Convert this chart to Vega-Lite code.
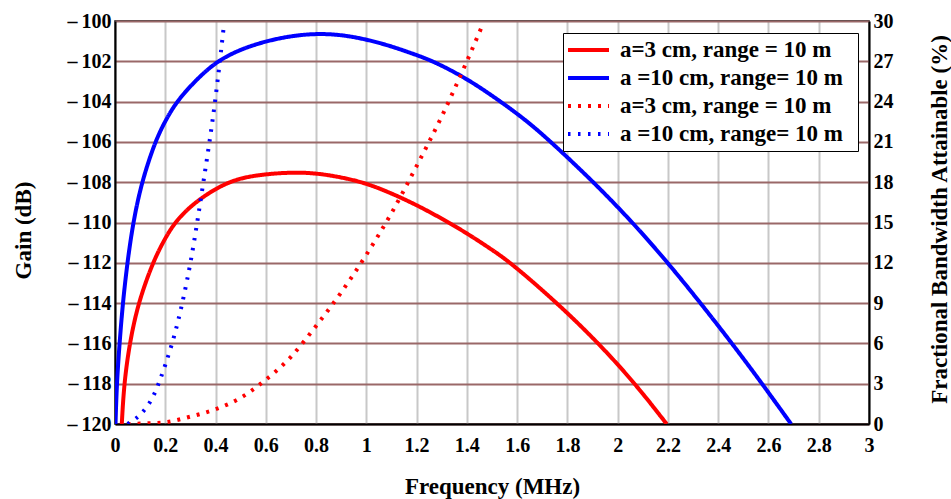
{
  "$schema": "https://vega.github.io/schema/vega-lite/v6.json",
  "autosize": {"type": "none"},
  "width": 754,
  "height": 403,
  "padding": {"left": 115, "top": 21, "right": 82, "bottom": 75},
  "background": "white",
  "config": {
    "font": "Liberation Serif",
    "view": {"stroke": "black", "strokeWidth": 1.5},
    "axis": {
      "labelFont": "Liberation Serif", "labelFontWeight": "bold", "labelFontSize": 20, "labelColor": "black",
      "titleFont": "Liberation Serif", "titleFontWeight": "bold", "titleFontSize": 23, "titleColor": "black",
      "domainColor": "black", "domainWidth": 2, "ticks": false, "tickSize": 0,
      "labelOverlap": false, "labelBound": false, "labelFlush": false
    },
    "legend": {
      "labelFont": "Liberation Serif", "labelFontWeight": "bold", "labelFontSize": 23, "labelColor": "black",
      "strokeColor": "black", "fillColor": "white", "padding": 3,
      "symbolType": "stroke", "symbolSize": 1681, "rowPadding": 0, "clipHeight": 28, "labelOffset": 9, "labelLimit": 400
    }
  },
  "data": {
    "values": [
      {"f": 0.002, "v": -120, "s": "g10"},
      {"f": 0.007, "v": -118, "s": "g10"},
      {"f": 0.018, "v": -116, "s": "g10"},
      {"f": 0.031, "v": -114, "s": "g10"},
      {"f": 0.049, "v": -112, "s": "g10"},
      {"f": 0.072, "v": -110, "s": "g10"},
      {"f": 0.106, "v": -108, "s": "g10"},
      {"f": 0.159, "v": -106, "s": "g10"},
      {"f": 0.2, "v": -104.95, "s": "g10"},
      {"f": 0.245, "v": -104, "s": "g10"},
      {"f": 0.32, "v": -102.95, "s": "g10"},
      {"f": 0.404, "v": -102, "s": "g10"},
      {"f": 0.5, "v": -101.4, "s": "g10"},
      {"f": 0.6, "v": -101.0, "s": "g10"},
      {"f": 0.7, "v": -100.74, "s": "g10"},
      {"f": 0.8, "v": -100.62, "s": "g10"},
      {"f": 0.9, "v": -100.68, "s": "g10"},
      {"f": 1.0, "v": -100.91, "s": "g10"},
      {"f": 1.1, "v": -101.25, "s": "g10"},
      {"f": 1.2, "v": -101.69, "s": "g10"},
      {"f": 1.267, "v": -102, "s": "g10"},
      {"f": 1.4, "v": -102.85, "s": "g10"},
      {"f": 1.535, "v": -104, "s": "g10"},
      {"f": 1.64, "v": -104.97, "s": "g10"},
      {"f": 1.735, "v": -106, "s": "g10"},
      {"f": 1.905, "v": -108, "s": "g10"},
      {"f": 2.06, "v": -110, "s": "g10"},
      {"f": 2.2, "v": -112, "s": "g10"},
      {"f": 2.33, "v": -114, "s": "g10"},
      {"f": 2.455, "v": -116, "s": "g10"},
      {"f": 2.575, "v": -118, "s": "g10"},
      {"f": 2.69, "v": -120, "s": "g10"},

      {"f": 0.027, "v": -120, "s": "g3"},
      {"f": 0.036, "v": -118, "s": "g3"},
      {"f": 0.058, "v": -116, "s": "g3"},
      {"f": 0.092, "v": -114, "s": "g3"},
      {"f": 0.15, "v": -112, "s": "g3"},
      {"f": 0.19, "v": -111, "s": "g3"},
      {"f": 0.236, "v": -110, "s": "g3"},
      {"f": 0.315, "v": -109, "s": "g3"},
      {"f": 0.44, "v": -108, "s": "g3"},
      {"f": 0.55, "v": -107.65, "s": "g3"},
      {"f": 0.7, "v": -107.5, "s": "g3"},
      {"f": 0.8, "v": -107.55, "s": "g3"},
      {"f": 0.9, "v": -107.75, "s": "g3"},
      {"f": 1.0, "v": -108.05, "s": "g3"},
      {"f": 1.1, "v": -108.55, "s": "g3"},
      {"f": 1.2, "v": -109.13, "s": "g3"},
      {"f": 1.3, "v": -109.8, "s": "g3"},
      {"f": 1.4, "v": -110.53, "s": "g3"},
      {"f": 1.5, "v": -111.35, "s": "g3"},
      {"f": 1.575, "v": -112, "s": "g3"},
      {"f": 1.76, "v": -114, "s": "g3"},
      {"f": 1.925, "v": -116, "s": "g3"},
      {"f": 2.07, "v": -118, "s": "g3"},
      {"f": 2.195, "v": -120, "s": "g3"},

      {"f": 0.05, "v": 0, "s": "b3"},
      {"f": 0.1, "v": 0.03, "s": "b3"},
      {"f": 0.2, "v": 0.13, "s": "b3"},
      {"f": 0.3, "v": 0.55, "s": "b3"},
      {"f": 0.4, "v": 1.1, "s": "b3"},
      {"f": 0.5, "v": 1.95, "s": "b3"},
      {"f": 0.58, "v": 3.0, "s": "b3"},
      {"f": 0.7, "v": 5.0, "s": "b3"},
      {"f": 0.8, "v": 7.3, "s": "b3"},
      {"f": 0.9, "v": 9.8, "s": "b3"},
      {"f": 1.0, "v": 12.6, "s": "b3"},
      {"f": 1.1, "v": 15.7, "s": "b3"},
      {"f": 1.2, "v": 19.2, "s": "b3"},
      {"f": 1.3, "v": 22.9, "s": "b3"},
      {"f": 1.4, "v": 27.0, "s": "b3"},
      {"f": 1.46, "v": 29.6, "s": "b3"},

      {"f": 0.05, "v": 0, "s": "b10"},
      {"f": 0.075, "v": 0.3, "s": "b10"},
      {"f": 0.1, "v": 0.7, "s": "b10"},
      {"f": 0.15, "v": 2.0, "s": "b10"},
      {"f": 0.2, "v": 4.4, "s": "b10"},
      {"f": 0.25, "v": 7.6, "s": "b10"},
      {"f": 0.3, "v": 12.0, "s": "b10"},
      {"f": 0.35, "v": 17.8, "s": "b10"},
      {"f": 0.4, "v": 24.3, "s": "b10"},
      {"f": 0.434, "v": 29.8, "s": "b10"}
    ]
  },
  "encoding": {
    "x": {
      "field": "f", "type": "quantitative",
      "scale": {"domain": [0, 3], "nice": false},
      "axis": {
        "values": [0, 0.2, 0.4, 0.6, 0.8, 1, 1.2, 1.4, 1.6, 1.8, 2, 2.2, 2.4, 2.6, 2.8, 3],
        "format": "~g", "grid": true, "gridColor": "#c8c8c8", "gridWidth": 2,
        "labelPadding": 11, "labelDx": 4,
        "title": "Frequency (MHz)", "titleX": 377, "titleY": 69, "titleBaseline": "alphabetic", "titleAnchor": null
      }
    },
    "color": {
      "field": "s", "type": "nominal",
      "scale": {"domain": ["g3", "g10", "b3", "b10"], "range": ["#ff0000", "#0000ff", "#ff0000", "#0000ff"]},
      "legend": {
        "orient": "none", "legendX": 448, "legendY": 12, "title": null,
        "labelExpr": "datum.value == 'g3' || datum.value == 'b3' ? 'a=3 cm, range = 10 m' : 'a =10 cm, range= 10 m\u2002\u200b'"
      }
    },
    "strokeDash": {
      "field": "s", "type": "nominal",
      "scale": {"domain": ["g3", "g10", "b3", "b10"], "range": [[1, 0], [1, 0], [3, 7], [2.5, 7.5]]},
      "legend": {
        "orient": "none", "legendX": 448, "legendY": 12, "title": null,
        "labelExpr": "datum.value == 'g3' || datum.value == 'b3' ? 'a=3 cm, range = 10 m' : 'a =10 cm, range= 10 m\u2002\u200b'"
      }
    },
    "strokeWidth": {
      "field": "s", "type": "nominal",
      "scale": {"domain": ["g3", "g10", "b3", "b10"], "range": [4, 4, 3, 2.5]},
      "legend": {
        "orient": "none", "legendX": 448, "legendY": 12, "title": null,
        "labelExpr": "datum.value == 'g3' || datum.value == 'b3' ? 'a=3 cm, range = 10 m' : 'a =10 cm, range= 10 m\u2002\u200b'"
      }
    }
  },
  "layer": [
    {
      "transform": [{"filter": "datum.s == 'g3' || datum.s == 'g10'"}],
      "mark": {"type": "line", "interpolate": "basis", "clip": true},
      "encoding": {
        "y": {
          "field": "v", "type": "quantitative",
          "scale": {"domain": [-120, -100], "nice": false, "zero": false},
          "axis": {
            "values": [-120, -118, -116, -114, -112, -110, -108, -106, -104, -102, -100],
            "labelExpr": "'\u2013\u2009' + abs(datum.value)",
            "grid": true, "gridColor": "#9a6868", "gridWidth": 2,
            "labelPadding": 4, "labelDy": 3,
            "title": "Gain (dB)", "titleAngle": -90, "titleX": -85, "titleY": 209,
            "titleBaseline": "alphabetic", "titleAlign": "center", "titleAnchor": null
          }
        }
      }
    },
    {
      "transform": [{"filter": "datum.s == 'b3' || datum.s == 'b10'"}],
      "mark": {"type": "line", "interpolate": "monotone", "clip": true, "strokeCap": "butt"},
      "encoding": {
        "y": {
          "field": "v", "type": "quantitative",
          "scale": {"domain": [0, 30], "nice": false},
          "axis": {
            "orient": "right",
            "values": [0, 3, 6, 9, 12, 15, 18, 21, 24, 27, 30],
            "grid": false, "labelPadding": 4, "labelDy": 3,
            "title": "Fractional Bandwidth Attainable (%)", "titleAngle": -90, "titleX": 77, "titleY": 198,
            "titleBaseline": "alphabetic", "titleAlign": "center", "titleAnchor": null
          }
        }
      }
    }
  ],
  "resolve": {"scale": {"y": "independent"}}
}
